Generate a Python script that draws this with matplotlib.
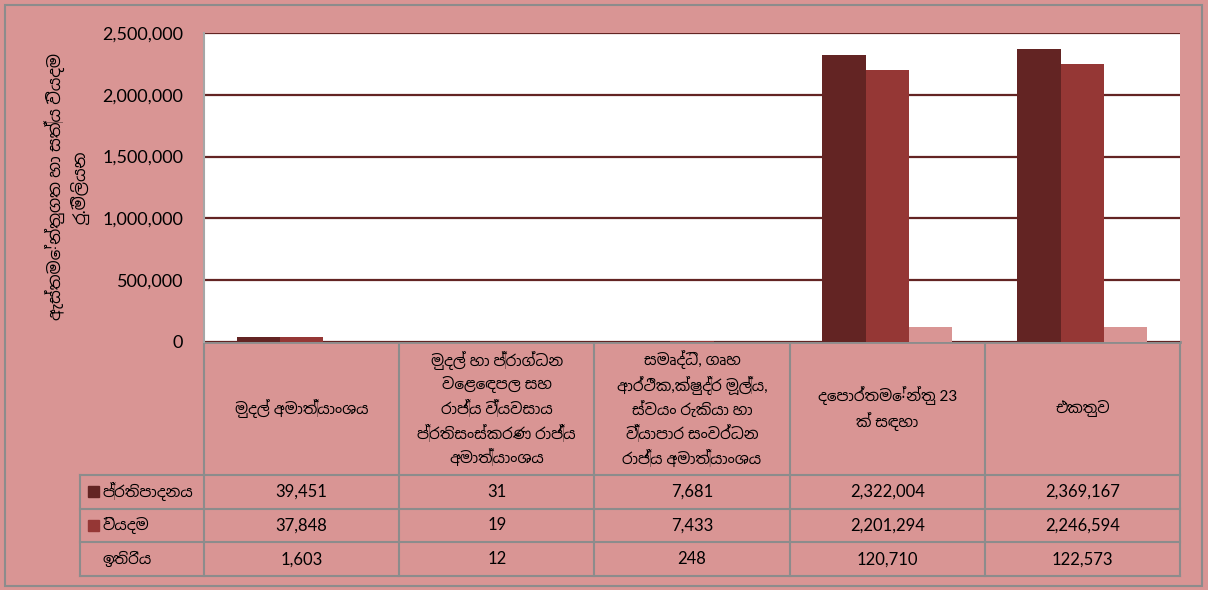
import matplotlib
matplotlib.use("Agg")
import matplotlib.pyplot as plt
import matplotlib.font_manager as fm
from matplotlib.patches import Rectangle
from matplotlib.ticker import FuncFormatter
import numpy as np

categories = [
    "මුදල් අමාත්‍යාංශය",
    "මුදල් හා ප්‍රාග්ධන\nවෙළෙඳපල සහ\nරාජ්‍ය ව්‍යවසාය\nප්‍රතිසංස්කරණ රාජ්‍ය\nඅමාත්‍යාංශය",
    "සමෘද්ධි, ගෘහ\nආර්ථික,ක්ෂුද්‍ර මූල්‍ය,\nස්වයං රැකියා හා\nව්‍යාපාර සංවර්ධන\nරාජ්‍ය අමාත්‍යාංශය",
    "දෙපාර්තමේන්තු 23\nක් සඳහා",
    "එකතුව",
]
series_names = ["ප්‍රතිපාදනය", "වියදම", "ඉතිරිය"]
allocation = [39451, 31, 7681, 2322004, 2369167]
expenditure = [37848, 19, 7433, 2201294, 2246594]
balance = [1603, 12, 248, 120710, 122573]
y_ticks = [0, 500000, 1000000, 1500000, 2000000, 2500000]
y_label = "ඇස්තමේන්තුගත හා සත්‍ය වියදම\nරු.මිලියන"

colors = ["#632423", "#953735", "#D99594"]
bg = "#D99594"

# pick a font that can show Sinhala if one is installed
sinhala = [f.name for f in fm.fontManager.ttflist
           if "Sinhala" in f.name or "Iskoola" in f.name]
plt.rcParams["font.family"] = ["Lato"] + sinhala[:1] + ["DejaVu Sans"]

W, H = 1208, 590
fig = plt.figure(figsize=(W / 100, H / 100), dpi=100, facecolor=bg)

# pixel helper axes for table and frame
tax = fig.add_axes([0, 0, 1, 1])
tax.set_xlim(0, W)
tax.set_ylim(H, 0)
tax.axis("off")
tax.add_patch(Rectangle((5, 5), W - 11, H - 9, fill=False, edgecolor="#8c8c8c", lw=1.5))

px_l, px_r, px_t, px_b = 204, 1180, 33, 342
ax = fig.add_axes([px_l / W, 1 - px_b / H, (px_r - px_l) / W, (px_b - px_t) / H])
ax.set_facecolor("white")

series = [allocation, expenditure, balance]
n = len(categories)
x = np.arange(n)
bw = 1 / 4.5
for i, vals in enumerate(series):
    ax.bar(x + (i - 1) * bw, vals, bw, color=colors[i], edgecolor="none", zorder=3)

ax.set_xlim(-0.5, n - 0.5)
ax.set_ylim(0, 2500000)
ax.set_yticks(y_ticks)
ax.yaxis.set_major_formatter(FuncFormatter(lambda v, p: f"{int(v):,}"))
ax.grid(axis="y", color="#632423", lw=1.6, zorder=1)
ax.set_xticks([])
ax.tick_params(axis="y", length=0, pad=15, labelsize=13)
for s in ["top", "right", "bottom"]:
    ax.spines[s].set_visible(False)
ax.spines["left"].set_color("#a6a6a6")
ax.spines["left"].set_linewidth(1.5)

fig.text(67 / W, 1 - 187 / H, y_label, rotation=90, ha="center", va="center",
         multialignment="center", fontsize=12, linespacing=1.3)

# data table under the chart
lc = 80
cw = (px_r - px_l) / n
hdr_b = 475
rh = (576 - hdr_b) / 3
edges = [px_l + k * cw for k in range(n + 1)]
gc = "#8c8c8c"
for xe in edges:
    tax.plot([xe, xe], [px_b, 576], color=gc, lw=1.5)
tax.plot([lc, lc], [hdr_b, 576], color=gc, lw=1.5)
tax.plot([px_l, px_r], [px_b, px_b], color=gc, lw=2)
for r in range(4):
    yy = hdr_b + r * rh
    tax.plot([lc, px_r], [yy, yy], color=gc, lw=1.5)

for k, cat in enumerate(categories):
    tax.text(px_l + (k + 0.5) * cw, (px_b + hdr_b) / 2, cat, ha="center",
             va="center", multialignment="center", fontsize=11, linespacing=1.45)

for r, (name, vals) in enumerate(zip(series_names, series)):
    yc = hdr_b + (r + 0.5) * rh
    tax.add_patch(Rectangle((88, yc - 6), 11, 11, color=colors[r]))
    tax.text(102, yc, name, ha="left", va="center", fontsize=11)
    for k, v in enumerate(vals):
        tax.text(px_l + (k + 0.5) * cw, yc, f"{v:,}", ha="center", va="center",
                 fontsize=12)

fig.savefig("out.png", dpi=100, facecolor=bg)
